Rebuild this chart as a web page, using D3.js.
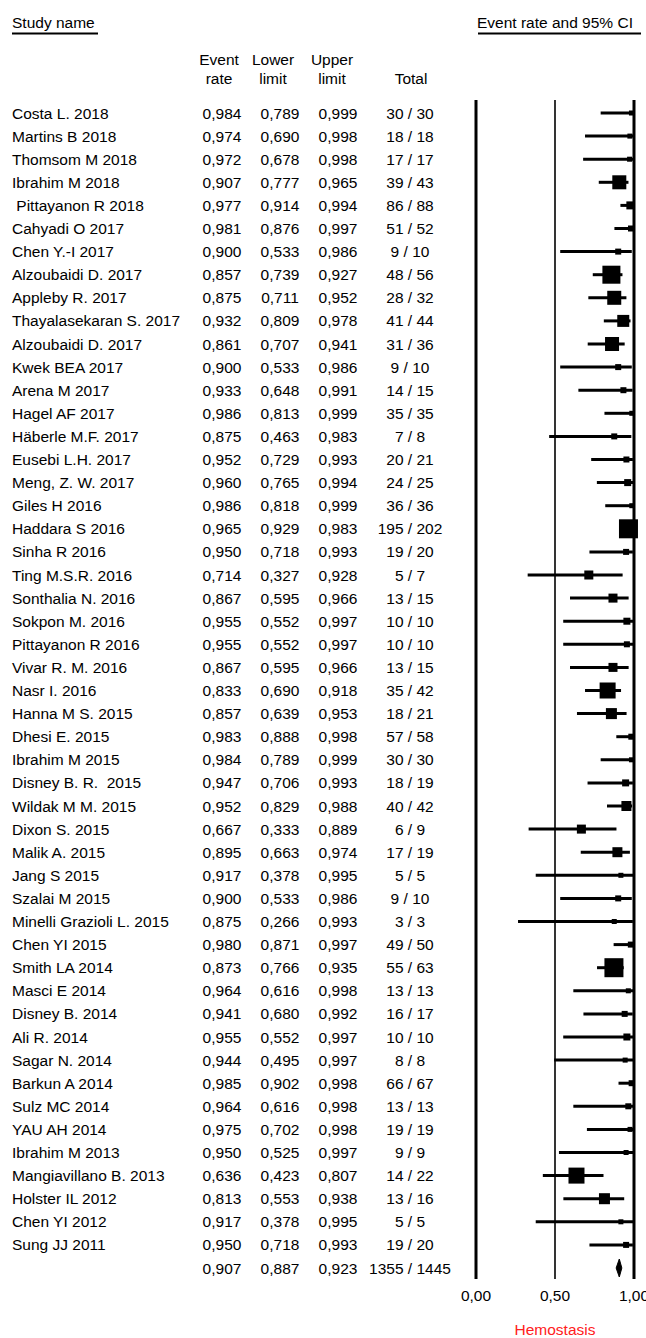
<!DOCTYPE html>
<html>
<head>
<meta charset="utf-8">
<script src="https://cdn.jsdelivr.net/npm/d3@7/dist/d3.min.js"></script>
<style>
  html, body { margin: 0; padding: 0; background: #fff; }
  svg { display: block; }
  text { font-family: "Liberation Sans", Arial, sans-serif; font-size: 15.5px; fill: #000; white-space: pre; }
</style>
</head>
<body>
<svg id="chart" width="646" height="1338"></svg>
<script>
const studies = [
  "Costa L. 2018", "Martins B 2018", "Thomsom M 2018", "Ibrahim M 2018", " Pittayanon R 2018",
  "Cahyadi O 2017", "Chen Y.-I 2017", "Alzoubaidi D. 2017", "Appleby R. 2017", "Thayalasekaran S. 2017",
  "Alzoubaidi D. 2017", "Kwek BEA 2017", "Arena M 2017", "Hagel AF 2017", "Häberle M.F. 2017",
  "Eusebi L.H. 2017", "Meng, Z. W. 2017", "Giles H 2016", "Haddara S 2016", "Sinha R 2016",
  "Ting M.S.R. 2016", "Sonthalia N. 2016", "Sokpon M. 2016", "Pittayanon R 2016", "Vivar R. M. 2016",
  "Nasr I. 2016", "Hanna M S. 2015", "Dhesi E. 2015", "Ibrahim M 2015", "Disney B. R.  2015",
  "Wildak M M. 2015", "Dixon S. 2015", "Malik A. 2015", "Jang S 2015", "Szalai M 2015",
  "Minelli Grazioli L. 2015", "Chen YI 2015", "Smith LA 2014", "Masci E 2014", "Disney B. 2014",
  "Ali R. 2014", "Sagar N. 2014", "Barkun A 2014", "Sulz MC 2014", "YAU AH 2014",
  "Ibrahim M 2013", "Mangiavillano B. 2013", "Holster IL 2012", "Chen YI 2012", "Sung JJ 2011"
];
const eventRate = [
  0.984, 0.974, 0.972, 0.907, 0.977, 0.981, 0.900, 0.857, 0.875, 0.932,
  0.861, 0.900, 0.933, 0.986, 0.875, 0.952, 0.960, 0.986, 0.965, 0.950,
  0.714, 0.867, 0.955, 0.955, 0.867, 0.833, 0.857, 0.983, 0.984, 0.947,
  0.952, 0.667, 0.895, 0.917, 0.900, 0.875, 0.980, 0.873, 0.964, 0.941,
  0.955, 0.944, 0.985, 0.964, 0.975, 0.950, 0.636, 0.813, 0.917, 0.950
];
const lowerLimit = [
  0.789, 0.690, 0.678, 0.777, 0.914, 0.876, 0.533, 0.739, 0.711, 0.809,
  0.707, 0.533, 0.648, 0.813, 0.463, 0.729, 0.765, 0.818, 0.929, 0.718,
  0.327, 0.595, 0.552, 0.552, 0.595, 0.690, 0.639, 0.888, 0.789, 0.706,
  0.829, 0.333, 0.663, 0.378, 0.533, 0.266, 0.871, 0.766, 0.616, 0.680,
  0.552, 0.495, 0.902, 0.616, 0.702, 0.525, 0.423, 0.553, 0.378, 0.718
];
const upperLimit = [
  0.999, 0.998, 0.998, 0.965, 0.994, 0.997, 0.986, 0.927, 0.952, 0.978,
  0.941, 0.986, 0.991, 0.999, 0.983, 0.993, 0.994, 0.999, 0.983, 0.993,
  0.928, 0.966, 0.997, 0.997, 0.966, 0.918, 0.953, 0.998, 0.999, 0.993,
  0.988, 0.889, 0.974, 0.995, 0.986, 0.993, 0.997, 0.935, 0.998, 0.992,
  0.997, 0.997, 0.998, 0.998, 0.998, 0.997, 0.807, 0.938, 0.995, 0.993
];
const events = [
  30, 18, 17, 39, 86, 51, 9, 48, 28, 41,
  31, 9, 14, 35, 7, 20, 24, 36, 195, 19,
  5, 13, 10, 10, 13, 35, 18, 57, 30, 18,
  40, 6, 17, 5, 9, 3, 49, 55, 13, 16,
  10, 8, 66, 13, 19, 9, 14, 13, 5, 19
];
const totals = [
  30, 18, 17, 43, 88, 52, 10, 56, 32, 44,
  36, 10, 15, 35, 8, 21, 25, 36, 202, 20,
  7, 15, 10, 10, 15, 42, 21, 58, 30, 19,
  42, 9, 19, 5, 10, 3, 50, 63, 13, 17,
  10, 8, 67, 13, 19, 9, 22, 16, 5, 20
];
// relative weights (%) estimated from the square sizes in the picture
const weights = [
  0.60, 0.60, 0.60, 4.69, 1.53, 0.86, 0.86, 7.75, 4.69, 3.44,
  4.69, 0.86, 0.86, 0.60, 0.86, 0.86, 1.17, 0.60, 8.63, 0.86,
  1.94, 1.94, 1.17, 0.86, 1.94, 6.12, 2.89, 0.86, 0.60, 1.17,
  2.39, 1.94, 2.39, 0.60, 0.86, 0.60, 0.86, 8.63, 0.60, 0.86,
  1.17, 0.60, 0.86, 0.86, 0.60, 0.60, 6.12, 2.89, 0.60, 0.86
];
const summary = { rate: 0.907, lower: 0.887, upper: 0.923, events: 1355, total: 1445 };
const axisTicks = [0, 0.5, 1];
const tickLabels = ["0,00", "0,50", "1,00"];
const columnHeaders = [["Event", "rate"], ["Lower", "limit"], ["Upper", "limit"], ["", "Total"]];

const fmt = v => v.toFixed(3).replace(".", ",");

const svg = d3.select("#chart");
const nRows = studies.length + 1;
const y = d3.scaleLinear().domain([0, nRows - 1]).range([113, 1268]);
const x = d3.scaleLinear().domain([0, 1]).range([476, 634]);
const side = d3.scaleSqrt().domain([0, d3.max(weights)]).range([0, 19]);

const colX = { name: 12, rate: 222, lower: 280, upper: 338, total: 410 };
const headX = [219, 273, 332, 411];

// titles
svg.append("text").attr("x", 12).attr("y", 28).text("Study name");
svg.append("line").attr("x1", 12).attr("x2", 98).attr("y1", 33.5).attr("y2", 33.5)
  .attr("stroke", "#000").attr("stroke-width", 2);
svg.append("text").attr("x", 477).attr("y", 28).text("Event rate and 95% CI");
svg.append("line").attr("x1", 478).attr("x2", 641).attr("y1", 33.5).attr("y2", 33.5)
  .attr("stroke", "#000").attr("stroke-width", 2);

// column headers
columnHeaders.forEach((h, i) => {
  svg.append("text").attr("x", headX[i]).attr("y", 65).attr("text-anchor", "middle").text(h[0]);
  svg.append("text").attr("x", headX[i]).attr("y", 84).attr("text-anchor", "middle").text(h[1]);
});

// table rows
const rows = studies.map((s, i) => ({
  name: s, rate: eventRate[i], lower: lowerLimit[i], upper: upperLimit[i],
  events: events[i], total: totals[i], w: weights[i], i
}));
const g = svg.append("g");
const rowG = g.selectAll("g.row").data(rows).join("g").attr("class", "row");
rowG.append("text").attr("x", colX.name).attr("y", d => y(d.i)).attr("dy", "0.36em").text(d => d.name);
rowG.append("text").attr("x", colX.rate).attr("y", d => y(d.i)).attr("dy", "0.36em").attr("text-anchor", "middle").text(d => fmt(d.rate));
rowG.append("text").attr("x", colX.lower).attr("y", d => y(d.i)).attr("dy", "0.36em").attr("text-anchor", "middle").text(d => fmt(d.lower));
rowG.append("text").attr("x", colX.upper).attr("y", d => y(d.i)).attr("dy", "0.36em").attr("text-anchor", "middle").text(d => fmt(d.upper));
rowG.append("text").attr("x", colX.total).attr("y", d => y(d.i)).attr("dy", "0.36em").attr("text-anchor", "middle").text(d => d.events + " / " + d.total);

// summary row text
const sy = y(nRows - 1);
svg.append("text").attr("x", colX.rate).attr("y", sy).attr("dy", "0.36em").attr("text-anchor", "middle").text(fmt(summary.rate));
svg.append("text").attr("x", colX.lower).attr("y", sy).attr("dy", "0.36em").attr("text-anchor", "middle").text(fmt(summary.lower));
svg.append("text").attr("x", colX.upper).attr("y", sy).attr("dy", "0.36em").attr("text-anchor", "middle").text(fmt(summary.upper));
svg.append("text").attr("x", colX.total).attr("y", sy).attr("dy", "0.36em").attr("text-anchor", "middle").text(summary.events + " / " + summary.total);

// vertical reference lines
const lineTop = 100, lineBottom = 1279;
svg.selectAll("line.ref").data(axisTicks).join("line").attr("class", "ref")
  .attr("x1", d => x(d)).attr("x2", d => x(d))
  .attr("y1", lineTop).attr("y2", lineBottom)
  .attr("stroke", "#000").attr("stroke-width", d => d === 0.5 ? 1.6 : 3);

// CI lines
rowG.append("line")
  .attr("x1", d => x(d.lower)).attr("x2", d => x(d.upper))
  .attr("y1", d => y(d.i)).attr("y2", d => y(d.i))
  .attr("stroke", "#000").attr("stroke-width", 3);
// squares
rowG.append("rect")
  .attr("x", d => x(d.rate) - side(d.w) / 2)
  .attr("y", d => y(d.i) - side(d.w) / 2)
  .attr("width", d => side(d.w)).attr("height", d => side(d.w))
  .attr("fill", "#000");

// summary diamond
const dh = 9;
svg.append("polygon")
  .attr("points", [
    [x(summary.lower), sy], [x(summary.rate), sy - dh],
    [x(summary.upper), sy], [x(summary.rate), sy + dh]
  ].map(p => p.join(",")).join(" "))
  .attr("fill", "#000").attr("stroke", "#000").attr("stroke-width", 1);

// tick labels
svg.selectAll("text.tick").data(axisTicks).join("text").attr("class", "tick")
  .attr("x", d => x(d)).attr("y", 1301).attr("text-anchor", "middle")
  .text((d, i) => tickLabels[i]);

svg.append("text").attr("x", x(0.5)).attr("y", 1335).attr("text-anchor", "middle")
  .style("fill", "#ff2020").text("Hemostasis");
</script>
</body>
</html>
